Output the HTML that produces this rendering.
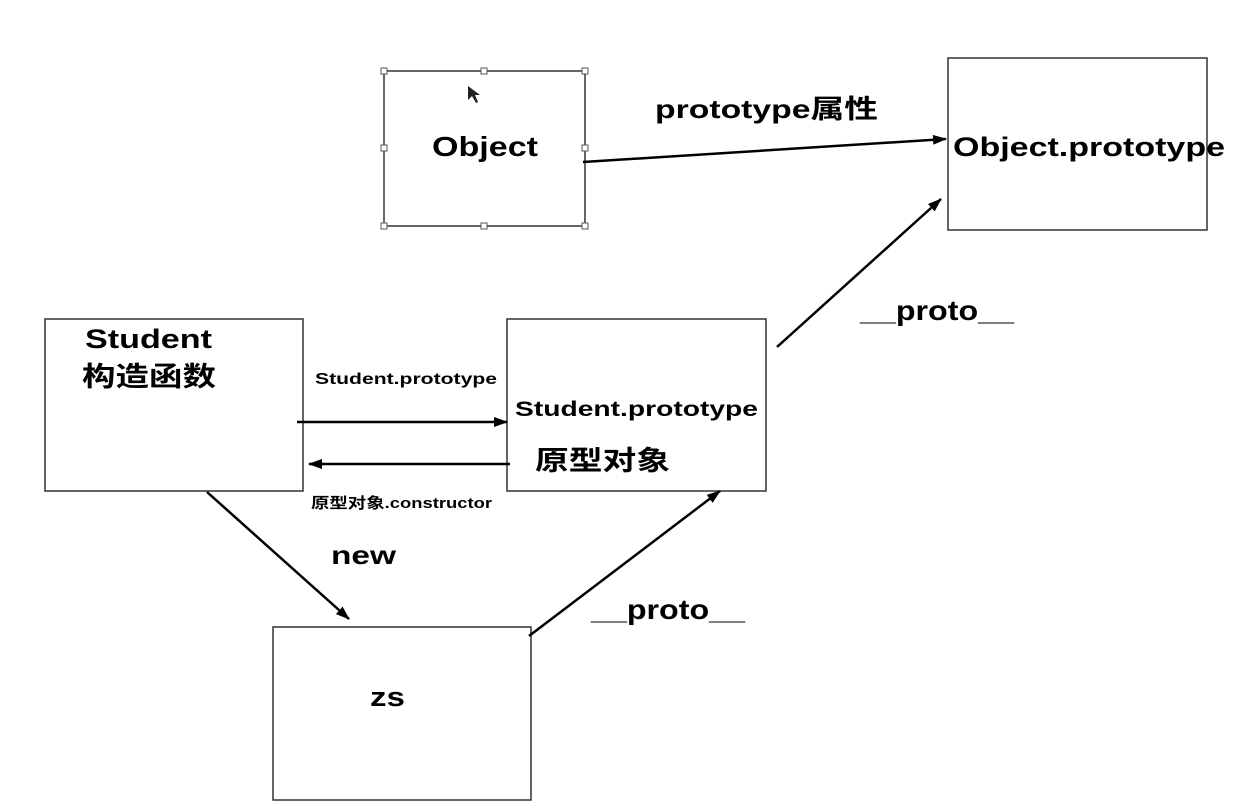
<!DOCTYPE html>
<html><head><meta charset="utf-8"><style>
body{margin:0;background:#fff}
text{font-family:"Liberation Sans","Noto Sans CJK SC",sans-serif;font-weight:bold;fill:#000}
</style></head><body>
<svg width="1233" height="803" xmlns="http://www.w3.org/2000/svg">
<defs><marker id="a" markerWidth="14" markerHeight="10" refX="13" refY="5" orient="auto" markerUnits="userSpaceOnUse"><path d="M0,0 L14,5 L0,10 z" fill="#000"/></marker></defs>
<g fill="none" stroke="#333" stroke-width="1.5">
<rect x="384" y="71" width="201" height="155"/>
<rect x="948" y="58" width="259" height="172"/>
<rect x="45" y="319" width="258" height="172"/>
<rect x="507" y="319" width="259" height="172"/>
<rect x="273" y="627" width="258" height="173"/>
</g>
<g fill="#fff" stroke="#555" stroke-width="1">
<rect x="381" y="68" width="6" height="6"/><rect x="481" y="68" width="6" height="6"/><rect x="582" y="68" width="6" height="6"/>
<rect x="381" y="145" width="6" height="6"/><rect x="582" y="145" width="6" height="6"/>
<rect x="381" y="223" width="6" height="6"/><rect x="481" y="223" width="6" height="6"/><rect x="582" y="223" width="6" height="6"/>
</g>
<path d="M468,86 L468,100 L472,96 L476,103 L478,102 L475,95 L480,95 z" fill="#222"/>
<g stroke="#000" stroke-width="2.5" marker-end="url(#a)">
<line x1="583" y1="162" x2="946" y2="139"/>
<line x1="777" y1="347" x2="941" y2="199"/>
<line x1="297" y1="422" x2="507" y2="422"/>
<line x1="510" y1="464" x2="309" y2="464"/>
<line x1="207" y1="492" x2="349" y2="619"/>
<line x1="529" y1="636" x2="720" y2="491"/>
</g>
<g lengthAdjust="spacingAndGlyphs">
<text x="655" y="118" font-size="26" textLength="223" lengthAdjust="spacingAndGlyphs">prototype属性</text>
<text x="432" y="156" font-size="28" textLength="106" lengthAdjust="spacingAndGlyphs">Object</text>
<text x="953" y="156" font-size="27" textLength="272" lengthAdjust="spacingAndGlyphs">Object.prototype</text>
<text x="860" y="320" font-size="28" textLength="154" lengthAdjust="spacingAndGlyphs">__proto__</text>
<text x="85" y="348" font-size="27" textLength="127" lengthAdjust="spacingAndGlyphs">Student</text>
<text x="82" y="386" font-size="27" textLength="134" lengthAdjust="spacingAndGlyphs">构造函数</text>
<text x="315" y="384" font-size="16" textLength="182" lengthAdjust="spacingAndGlyphs">Student.prototype</text>
<text x="515" y="416" font-size="21" textLength="243" lengthAdjust="spacingAndGlyphs">Student.prototype</text>
<text x="535" y="470" font-size="27" textLength="135" lengthAdjust="spacingAndGlyphs">原型对象</text>
<text x="311" y="508" font-size="15" textLength="181" lengthAdjust="spacingAndGlyphs">原型对象.constructor</text>
<text x="331" y="564" font-size="26" textLength="65" lengthAdjust="spacingAndGlyphs">new</text>
<text x="591" y="619" font-size="28" textLength="154" lengthAdjust="spacingAndGlyphs">__proto__</text>
<text x="370" y="706" font-size="27" textLength="35" lengthAdjust="spacingAndGlyphs">zs</text>
</g>
</svg>
</body></html>
